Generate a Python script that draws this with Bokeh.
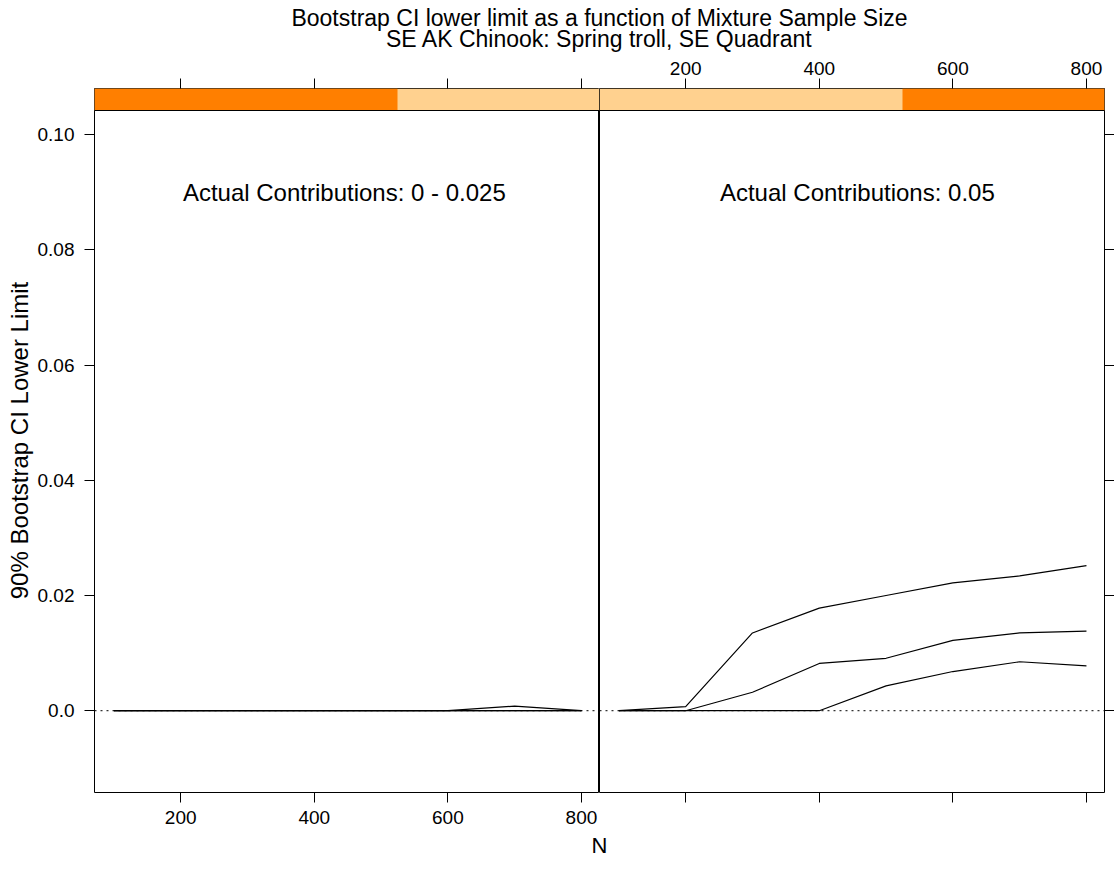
from bokeh.plotting import figure
from bokeh.models import Range1d, FixedTicker, LinearAxis, Span, Label
from bokeh.layouts import column, row
from bokeh.embed import file_html
from bokeh.resources import INLINE

# ---------------- data ----------------
N_VALUES = [100, 200, 300, 400, 500, 600, 700, 800]

PANEL_LABELS = ["Actual Contributions:  0 - 0.025", "Actual Contributions:  0.05"]

# panel 1 : actual contributions 0 - 0.025
P1_LINE_A = [0.0, 0.0, 0.0, 0.0, 0.0, 0.0, 0.0008, 0.0]
P1_LINE_B = [0.0, 0.0, 0.0, 0.0, 0.0, 0.0, 0.0, 0.0]
P1_LINE_C = [0.0, 0.0, 0.0, 0.0, 0.0, 0.0, 0.0, 0.0]

# panel 2 : actual contributions 0.05
P2_LINE_A = [0.0, 0.0007, 0.0135, 0.0178, 0.0200, 0.0222, 0.0234, 0.0252]
P2_LINE_B = [0.0, 0.0, 0.0032, 0.0082, 0.0091, 0.0122, 0.0135, 0.0138]
P2_LINE_C = [0.0, 0.0, 0.0, 0.0, 0.0043, 0.0068, 0.0085, 0.0078]

X_TICKS = [200, 400, 600, 800]
Y_TICKS = [0.0, 0.02, 0.04, 0.06, 0.08, 0.10]
Y_TICK_LABELS = ["0.0", "0.02", "0.04", "0.06", "0.08", "0.10"]

X_LIM = (71.0, 827.0)
Y_LIM = (-0.0142, 0.1042)
TEXT_POS = [(450, 0.09), (462, 0.09)]

# strip shading: fraction of the strip (from left) that is dark orange
STRIP_DARK = [(0.0, 0.6), (0.6, 1.0)]

TITLE_1 = "Bootstrap CI lower limit as a function of Mixture Sample Size"
TITLE_2 = "SE AK Chinook: Spring troll, SE Quadrant"
Y_LABEL = "90% Bootstrap CI Lower Limit"
X_LABEL = "N"

# ---------------- layout ----------------
W, H = 1114, 886
TITLE_H = 52
PANEL_LEFT = 94
PANEL_W = 505
RIGHT_PAD = 10
FRAME_TOP = 88
STRIP_H = 22
FRAME_BOTTOM = 792
BOTTOM_PAD = 38
MID_H = FRAME_BOTTOM + BOTTOM_PAD - TITLE_H
N_H = H - TITLE_H - MID_H
PANEL_H = FRAME_BOTTOM - FRAME_TOP - STRIP_H

FONT = "Liberation Sans"
ORANGE = "#FF7F00"
PEACH = "#FFD18F"
TICK_FONT = "19px"

y_per_px = (Y_LIM[1] - Y_LIM[0]) / PANEL_H
Y_TOP = Y_LIM[1] + STRIP_H * y_per_px

tick_labels = {t: l for t, l in zip(Y_TICKS, Y_TICK_LABELS)}
blank_x = {t: "" for t in X_TICKS}
blank_y = {t: "" for t in Y_TICKS}


def style_axis(ax, standoff=9):
    ax.axis_line_color = None
    ax.major_tick_line_color = "black"
    ax.major_tick_line_width = 1
    ax.major_tick_out = 10
    ax.major_tick_in = 0
    ax.minor_tick_line_color = None
    ax.major_label_text_font = FONT
    ax.major_label_text_font_size = TICK_FONT
    ax.major_label_text_color = "black"
    ax.major_label_standoff = standoff


def make_panel(idx, lines, width, left, right, yloc):
    p = figure(width=width, height=MID_H, output_backend="svg", toolbar_location=None,
               x_range=Range1d(*X_LIM), y_range=Range1d(Y_LIM[0], Y_TOP),
               y_axis_location=yloc,
               min_border_left=left, min_border_right=right,
               min_border_top=FRAME_TOP - TITLE_H,
               min_border_bottom=BOTTOM_PAD)
    p.xgrid.visible = False
    p.ygrid.visible = False
    p.outline_line_color = "black"
    p.outline_line_width = 1
    p.outline_line_alpha = 1
    p.background_fill_color = "white"
    p.border_fill_color = "white"

    # strip
    span = X_LIM[1] - X_LIM[0]
    p.quad(left=[X_LIM[0]], right=[X_LIM[1]], bottom=[Y_LIM[1]], top=[Y_TOP],
           fill_color=PEACH, line_color=None)
    d0, d1 = STRIP_DARK[idx]
    p.quad(left=[X_LIM[0] + d0 * span], right=[X_LIM[0] + d1 * span],
           bottom=[Y_LIM[1]], top=[Y_TOP], fill_color=ORANGE, line_color=None)
    p.add_layout(Span(location=Y_LIM[1], dimension="width", line_color="black", line_width=1))

    # reference line at 0
    p.add_layout(Span(location=0, dimension="width", line_color="black",
                      line_width=1, line_dash="2 4"))

    for ys in lines:
        p.line(N_VALUES, ys, line_color="black", line_width=1.2)

    tx, ty = TEXT_POS[idx]
    p.add_layout(Label(x=tx, y=ty, text=PANEL_LABELS[idx],
                       text_align="center", text_baseline="middle",
                       text_font=FONT, text_font_size="24px", text_color="black"))

    # axes
    bottom = p.below[0]
    bottom.ticker = FixedTicker(ticks=X_TICKS)
    p.yaxis.ticker = FixedTicker(ticks=Y_TICKS)
    style_axis(bottom, 8)
    for ax in p.yaxis:
        style_axis(ax, 10)
    top = LinearAxis(ticker=FixedTicker(ticks=X_TICKS))
    style_axis(top, 4)
    p.add_layout(top, "above")
    return p, bottom, top


f1, bot1, top1 = make_panel(0, [P1_LINE_A, P1_LINE_B, P1_LINE_C], PANEL_LEFT + PANEL_W,
                            PANEL_LEFT, 0, "left")
f2, bot2, top2 = make_panel(1, [P2_LINE_A, P2_LINE_B, P2_LINE_C], PANEL_W + RIGHT_PAD,
                            0, RIGHT_PAD, "right")

f1.yaxis.major_label_overrides = tick_labels
f1.yaxis.axis_label = Y_LABEL
f1.yaxis.axis_label_text_font = FONT
f1.yaxis.axis_label_text_font_size = "24px"
f1.yaxis.axis_label_text_font_style = "normal"
f1.yaxis.axis_label_text_color = "black"
f1.yaxis.axis_label_standoff = 2
top1.major_label_overrides = blank_x
top1.major_label_standoff = 0

bot2.major_label_overrides = blank_x
bot2.major_label_standoff = 0
f2.yaxis.major_label_overrides = blank_y
f2.yaxis.major_label_standoff = 0

# title figure
CX = (PANEL_LEFT + PANEL_W) / W
ft = figure(width=W, height=TITLE_H, output_backend="svg", toolbar_location=None,
            x_range=Range1d(0, 1), y_range=Range1d(0, 1), min_border=0)
ft.axis.visible = False
ft.grid.visible = False
ft.outline_line_color = None
ft.add_layout(Label(x=CX, y=1 - 17 / TITLE_H, text=TITLE_1, text_align="center",
                    text_baseline="middle", text_font=FONT, text_font_size="23px",
                    text_color="black"))
ft.add_layout(Label(x=CX, y=1 - 38 / TITLE_H, text=TITLE_2, text_align="center",
                    text_baseline="middle", text_font=FONT, text_font_size="23px",
                    text_color="black"))

# x label figure
N_CENTER = 845
fn = figure(width=W, height=N_H, output_backend="svg", toolbar_location=None,
            x_range=Range1d(0, 1), y_range=Range1d(0, 1), min_border=0)
fn.axis.visible = False
fn.grid.visible = False
fn.outline_line_color = None
fn.add_layout(Label(x=CX, y=1 - (N_CENTER - TITLE_H - MID_H) / N_H, text=X_LABEL,
                    text_align="center", text_baseline="middle", text_font=FONT,
                    text_font_size="22px", text_color="black"))

layout = column(ft, row(f1, f2), fn)
open("out.html", "w").write(file_html(layout, INLINE))
